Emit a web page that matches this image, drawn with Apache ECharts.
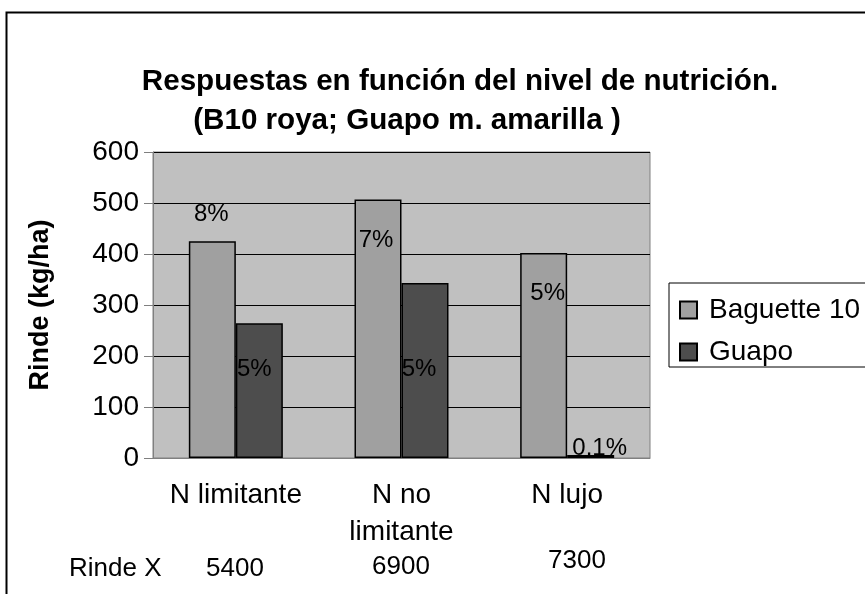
<!DOCTYPE html>
<html>
<head>
<meta charset="utf-8">
<script src="https://cdn.jsdelivr.net/npm/echarts@6/dist/echarts.min.js"></script>
<style>
  html, body { margin: 0; padding: 0; background: #fff; }
  #chart { width: 865px; height: 594px; }
</style>
</head>
<body>
<div id="chart"></div>
<script>
// datos
const categorias = ['N limitante', 'N no\nlimitante', 'N lujo']
const baguette = [425, 507, 402]
const guapo = [264, 343, 6]
const baguettePct = ['8%', '7%', '5%']
const guapoPct = ['5%', '5%', '0.1%']
const rindeX = ['5400', '6900', '7300']
const yTicks = [0, 100, 200, 300, 400, 500, 600]

const FONT = 'Liberation Sans'

// ubicacion de las etiquetas (estilo, no datos)
const baguetteLbl = [
  { position: 'top', distance: 15, offset: [-1, 0] },
  { position: 'insideTop', offset: [-2, 24] },
  { position: 'insideTop', offset: [4, 23] }
]
const guapoLbl = [
  { position: 'insideTop', offset: [-5, 29] },
  { position: 'insideTop', offset: [-6, 69] },
  { position: 'top', offset: [9, 5], distance: 0 }
]
// posiciones de la fila "Rinde X" (centro de cada texto)
const rindeXPos = [[235, 569], [401, 567], [577, 561]]

function conEtiquetas(vals, pcts, lbl) {
  return vals.map((v, i) => ({
    value: v,
    label: Object.assign({ show: true, formatter: pcts[i] }, lbl[i])
  }))
}

const myChart = echarts.init(document.getElementById('chart'))

let graficos = [
  {
    type: 'rect', left: 4, top: 10, silent: true,
    shape: { width: 1000, height: 1000 },
    style: { fill: 'none', stroke: '#000', lineWidth: 2 }
  },
  {
    type: 'text', x: 69, y: 569,
    style: { text: 'Rinde X', font: '26px ' + FONT, fill: '#000', textAlign: 'left', textVerticalAlign: 'middle' }
  }
]
rindeX.forEach((t, i) => {
  graficos.push({
    type: 'text', x: rindeXPos[i][0], y: rindeXPos[i][1],
    style: { text: t, font: '26px ' + FONT, fill: '#000', textAlign: 'center', textVerticalAlign: 'middle' }
  })
})

let option = {
  backgroundColor: '#fff',
  animation: false,
  textStyle: { fontFamily: FONT },
  title: [
    {
      text: 'Respuestas en función del nivel de nutrición.',
      left: 455, top: 62, textAlign: 'center',
      textStyle: { fontFamily: FONT, fontWeight: 'bold', fontSize: 29.6, color: '#000' }
    },
    {
      text: '(B10 roya; Guapo m. amarilla )',
      left: 402, top: 101, textAlign: 'center',
      textStyle: { fontFamily: FONT, fontWeight: 'bold', fontSize: 29.6, color: '#000' }
    }
  ],
  legend: {
    orient: 'vertical',
    left: 669, top: 283,
    padding: [13, 60, 1, 10],
    itemGap: 14,
    itemWidth: 17, itemHeight: 17,
    borderColor: '#000', borderWidth: 1,
    icon: 'rect',
    textStyle: { fontFamily: FONT, fontSize: 28, color: '#000', padding: [0, 0, 0, 7] },
    data: ['Baguette 10', 'Guapo']
  },
  grid: {
    left: 153, right: 215, top: 152, bottom: 136,
    show: true, backgroundColor: '#c0c0c0', borderColor: '#808080', borderWidth: 1
  },
  xAxis: {
    type: 'category',
    data: categorias,
    axisLine: { lineStyle: { color: '#808080', width: 1 } },
    axisTick: { length: 9, lineStyle: { color: '#808080' } },
    axisLabel: { interval: 0, hideOverlap: false, fontSize: 28, color: '#000', margin: 19, lineHeight: 37, fontFamily: FONT }
  },
  yAxis: {
    type: 'value',
    min: yTicks[0], max: yTicks[yTicks.length - 1], interval: 100,
    name: 'Rinde (kg/ha)',
    nameLocation: 'middle', nameGap: 99, nameRotate: 90,
    nameTextStyle: { fontFamily: FONT, fontWeight: 'bold', fontSize: 27, color: '#000' },
    axisLine: { show: true, lineStyle: { color: '#808080', width: 1 } },
    axisTick: { show: true, length: 9, lineStyle: { color: '#808080' } },
    axisLabel: { fontSize: 28, color: '#000', margin: 14, fontFamily: FONT },
    splitLine: { lineStyle: { color: '#000', width: 1 } }
  },
  series: [
    {
      name: 'Baguette 10',
      type: 'bar',
      barWidth: 47,
      barGap: '0%',
      itemStyle: { color: '#a0a0a0', borderColor: '#000', borderWidth: 1.5 },
      label: { fontSize: 24, color: '#000', fontFamily: FONT },
      data: conEtiquetas(baguette, baguettePct, baguetteLbl)
    },
    {
      name: 'Guapo',
      type: 'bar',
      barWidth: 47,
      barGap: '0%',
      itemStyle: { color: '#4d4d4d', borderColor: '#000', borderWidth: 1.5 },
      label: { fontSize: 24, color: '#000', fontFamily: FONT },
      data: conEtiquetas(guapo, guapoPct, guapoLbl)
    }
  ],
  graphic: graficos
}
myChart.setOption(option)

window.addEventListener('resize', function () {
  myChart.resize()
})
</script>
</body>
</html>
